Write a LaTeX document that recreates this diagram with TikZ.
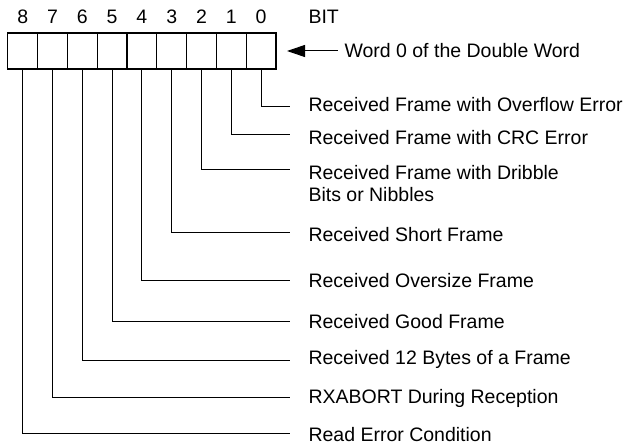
\documentclass[tikz,border=0pt]{standalone}
\usepackage{fontspec}
\setmainfont{Liberation Sans}
\usetikzlibrary{arrows.meta,positioning}

\begin{document}
\begin{tikzpicture}[x=1pt,y=-1pt,line width=1pt,
  bit cell/.style={rectangle,draw,line width=1.3pt,minimum width=29.8pt,minimum height=36pt,inner sep=0pt},
  bit num/.style={anchor=base,inner sep=0pt,font=\fontsize{19.5}{22.5}\selectfont},
  field text/.style={anchor=base west,inner sep=0pt,font=\fontsize{19.5}{22.5}\selectfont}]

  \useasboundingbox (0,0) rectangle (629,446);

  % the nine bits of the word, bit 0 on the right
  \foreach \i in {0,...,8}{
    \node[bit cell] (c\i) at (261.1-29.8*\i,51) {};
    \node[bit num] (n\i) at (261.1-29.8*\i,23.5) {\i};
  }
  \node[field text] (bit) at (308,23.5) {BIT};

  \node[field text,inner xsep=6pt] (word) at (338,57.5) {Word 0 of the Double Word};
  \coordinate (tip) at (287,51);
  \draw[{Triangle[length=18pt,width=12pt]}-] (tip) -- (tip -| word.west);

  % what each bit means
  \node[field text] (f0) at (308,112) {Received Frame with Overflow Error};
  \node[field text] (f1) at (308,145) {Received Frame with CRC Error};
  \node[field text,align=left] (f2) at (308,202) {Received Frame with Dribble\\Bits or Nibbles};
  \node[field text] (f3) at (308,242) {Received Short Frame};
  \node[field text] (f4) at (308,288) {Received Oversize Frame};
  \node[field text] (f5) at (308,328) {Received Good Frame};
  \node[field text] (f6) at (308,364) {Received 12 Bytes of a Frame};
  \node[field text] (f7) at (308,403) {RXABORT During Reception};
  \node[field text] (f8) at (308,441) {Read Error Condition};

  \foreach \i/\ly in {0/107,1/135,2/170,3/233,4/281,5/321,6/360,7/397,8/433}
    \coordinate (e\i) at (290,\ly);
  \foreach \i in {0,...,8}
    \draw (c\i.south) |- (e\i);
\end{tikzpicture}
\end{document}
